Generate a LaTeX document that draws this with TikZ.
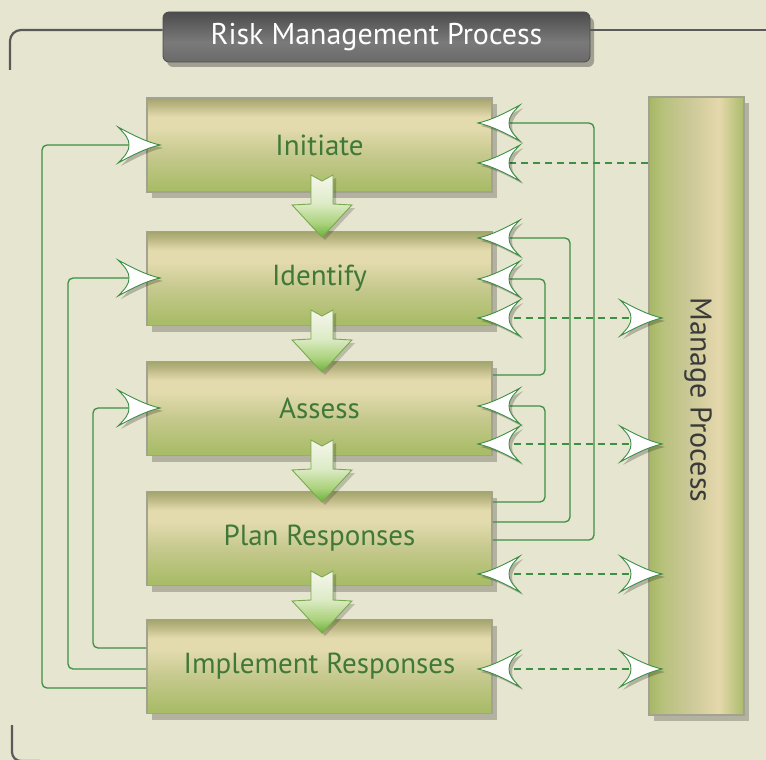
\documentclass[tikz,border=0pt]{standalone}
\usepackage{fontspec}
\setmainfont{PT Sans}
\usetikzlibrary{shadows}
\definecolor{bgcol}{HTML}{E6E5CF}
\definecolor{framecol}{HTML}{5A5A5A}
\definecolor{conncol}{HTML}{3D8F45}
\definecolor{txtgreen}{HTML}{3F7838}
\definecolor{mgtext}{HTML}{3A3A3A}
\definecolor{bxborder}{HTML}{A3A290}
\definecolor{bxbot}{HTML}{A9BC68}
\definecolor{bxmid}{HTML}{C6C98E}
\definecolor{bxlight}{HTML}{E3DBAE}
\definecolor{bxband2}{HTML}{BDB784}
\definecolor{bxband}{HTML}{A2A56C}
\definecolor{mgA}{HTML}{A6B865}
\definecolor{mgB}{HTML}{B9C27E}
\definecolor{mgC}{HTML}{CBC897}
\definecolor{mgD}{HTML}{E5D8AC}
\definecolor{mgE}{HTML}{A9BB6A}
\definecolor{tiTop}{HTML}{4C4C4C}
\definecolor{tiMid}{HTML}{7A7A7A}
\definecolor{tiBot}{HTML}{6A6A6A}
\definecolor{daTip}{HTML}{6DAF3C}
\definecolor{daB}{HTML}{AAD27C}
\definecolor{daC}{HTML}{DDEBC6}
\definecolor{daTop}{HTML}{F6F6EC}
\definecolor{daline}{HTML}{78AA4E}
\pgfdeclareverticalshading{boxshade}{100bp}{color(0bp)=(bxbot); color(27bp)=(bxbot); color(45bp)=(bxmid); color(59bp)=(bxlight); color(65bp)=(bxlight); color(71bp)=(bxband2); color(75bp)=(bxband); color(100bp)=(bxband)}
\pgfdeclarehorizontalshading{mgshade}{100bp}{color(0bp)=(mgA); color(25bp)=(mgA); color(33bp)=(mgB); color(46bp)=(mgC); color(62bp)=(mgD); color(75bp)=(mgE); color(100bp)=(mgE)}
\pgfdeclareverticalshading{titleshade}{100bp}{color(0bp)=(tiBot); color(25bp)=(tiBot); color(45bp)=(tiMid); color(75bp)=(tiTop); color(100bp)=(tiTop)}
\pgfdeclareverticalshading{darrshade}{100bp}{color(0bp)=(daTip); color(25bp)=(daTip); color(36bp)=(daB); color(52bp)=(daC); color(75bp)=(daTop); color(100bp)=(daTop)}
\tikzset{
  box/.style={minimum width=345pt, minimum height=94pt, inner sep=0pt, shading=boxshade,
    draw=bxborder, line width=1.8pt,
    drop shadow={shadow xshift=5pt, shadow yshift=-6pt, fill=black, opacity=.22},
    font=\fontsize{29}{34}\selectfont, text=txtgreen},
  mgbox/.style={minimum width=95pt, minimum height=618pt, inner sep=0pt, shading=mgshade,
    draw=bxborder, line width=1.8pt,
    drop shadow={shadow xshift=5pt, shadow yshift=-6pt, fill=black, opacity=.22}},
  titlebox/.style={minimum width=427pt, minimum height=50pt, inner sep=0pt, rounded corners=6pt,
    shading=titleshade, draw=tiTop, line width=.8pt,
    drop shadow={shadow xshift=4pt, shadow yshift=-5pt, fill=black, opacity=.3},
    font=\fontsize{30}{34}\selectfont, text=white},
  frame/.style={draw=framecol, line width=2.2pt},
  conn/.style={draw=conncol, line width=1.3pt, rounded corners=5pt},
  dashconn/.style={draw=conncol, line width=1.3pt, dash pattern=on 7pt off 5pt},
  headL/.pic={
    \fill[black,opacity=.22] (3,3) .. controls (17,0) and (32,-8) .. (45,-15) .. controls (37,-7) and (34,-3) .. (34,3) .. controls (34,9) and (37,13) .. (45,21) .. controls (32,14) and (17,6) .. (3,3) -- cycle;
    \filldraw[fill=white,draw=conncol,line width=.9pt] (0,0) .. controls (14,-3) and (29,-11) .. (42,-18) .. controls (34,-10) and (31,-6) .. (31,0) .. controls (31,6) and (34,10) .. (42,18) .. controls (29,11) and (14,3) .. (0,0) -- cycle;
  },
  headR/.pic={
    \fill[black,opacity=.22] (3,3) .. controls (-11,0) and (-26,-8) .. (-39,-15) .. controls (-31,-7) and (-28,-3) .. (-28,3) .. controls (-28,9) and (-31,13) .. (-39,21) .. controls (-26,14) and (-11,6) .. (3,3) -- cycle;
    \filldraw[fill=white,draw=conncol,line width=.9pt] (0,0) .. controls (-14,-3) and (-29,-11) .. (-42,-18) .. controls (-34,-10) and (-31,-6) .. (-31,0) .. controls (-31,6) and (-34,10) .. (-42,18) .. controls (-29,11) and (-14,3) .. (0,0) -- cycle;
  },
  darr/.pic={
    \fill[black,opacity=.18] (3,3) -- (-27,-29) -- (-8,-29) -- (-8,-59) -- (3,-54) -- (14,-59) -- (14,-29) -- (33,-29) -- cycle;
    \shade[shading=darrshade, draw=daline, line width=.9pt] (0,0) .. controls (-12,-12) and (-22,-24) .. (-30,-32) -- (-11,-33) -- (-11,-62) -- (0,-56) -- (11,-62) -- (11,-33) -- (30,-32) .. controls (22,-24) and (12,-12) .. (0,0) -- cycle;
  },
}
\begin{document}
\begin{tikzpicture}[x=1pt,y=-1pt]
\useasboundingbox (0,0) rectangle (766,760);
\fill[bgcol] (0,0) rectangle (766,760);
% title and frame
\node[titlebox] (title) at (376.5,37) {Risk Management Process};
\draw[frame, rounded corners=11pt] (10,70) |- (title.west |- 0,30);
\draw[frame] (title.east |- 0,30) -- (766,30);
\draw[frame, rounded corners=9pt] (12,725) |- (40,761);
% process boxes
\node[box] (init)   at (319.5,145)   {Initiate};
\node[box] (ident)  at (319.5,278.5) {Identify};
\node[box] (assess) at (319.5,408.5) {Assess};
\node[box] (plan)   at (319.5,538.5) {Plan Responses};
\node[box] (impl)   at (319.5,666.5) {Implement Responses};
\node[mgbox] (manage) at (696.5,406) {};
\node[rotate=-90, font=\fontsize{30}{34}\selectfont, text=mgtext] (mglabel) at (698,400) {Manage Process};
% arrow tip coordinates
\coordinate (tInitL)  at (160,145);
\coordinate (tIdentL) at (160,278);
\coordinate (tAssessL) at (160,408);
\coordinate (tInitR1) at (478,123);
\coordinate (tInitR2) at (478,163);
\coordinate (tIdentR1) at (478,238);
\coordinate (tIdentR2) at (478,279);
\coordinate (tIdentR3) at (478,318);
\coordinate (tAssessR1) at (478,406);
\coordinate (tAssessR2) at (478,444);
\coordinate (tPlanR) at (478,574);
\coordinate (tImplR) at (478,669);
\coordinate (tMg1) at (662,318);
\coordinate (tMg2) at (662,444);
\coordinate (tMg3) at (662,574);
\coordinate (tMg4) at (662,669);
% left feedback connectors
\draw[conn] (impl.west |- 0,648) -| (93,408) -- (tAssessL);
\draw[conn] (impl.west |- 0,669) -| (68,278) -- (tIdentL);
\draw[conn] (impl.west |- 0,688) -| (42,145) -- (tInitL);
% right feedback connectors
\draw[conn] (plan.east |- 0,540) -| (594,123) -- (tInitR1);
\draw[conn] (plan.east |- 0,522) -| (570,238) -- (tIdentR1);
\draw[conn] (plan.east |- 0,502) -| (545,406) -- (tAssessR1);
\draw[conn] (assess.east |- 0,375) -| (545,279) -- (tIdentR2);
% dashed links with Manage Process
\draw[dashconn] (manage.west |- 0,163) -- (tInitR2);
\draw[dashconn] (tIdentR3) -- (tMg1);
\draw[dashconn] (tAssessR2) -- (tMg2);
\draw[dashconn] (tPlanR) -- (tMg3);
\draw[dashconn] (tImplR) -- (tMg4);
% arrowheads
\foreach \p in {tInitL,tIdentL,tAssessL,tMg1,tMg2,tMg3,tMg4} {\pic at (\p) {headR};}
\foreach \p in {tInitR1,tInitR2,tIdentR1,tIdentR2,tIdentR3,tAssessR1,tAssessR2,tPlanR,tImplR} {\pic at (\p) {headL};}
% down arrows
\pic at (322,237) {darr};
\pic at (322,372) {darr};
\pic at (322,502) {darr};
\pic at (322,633) {darr};
\end{tikzpicture}
\end{document}
